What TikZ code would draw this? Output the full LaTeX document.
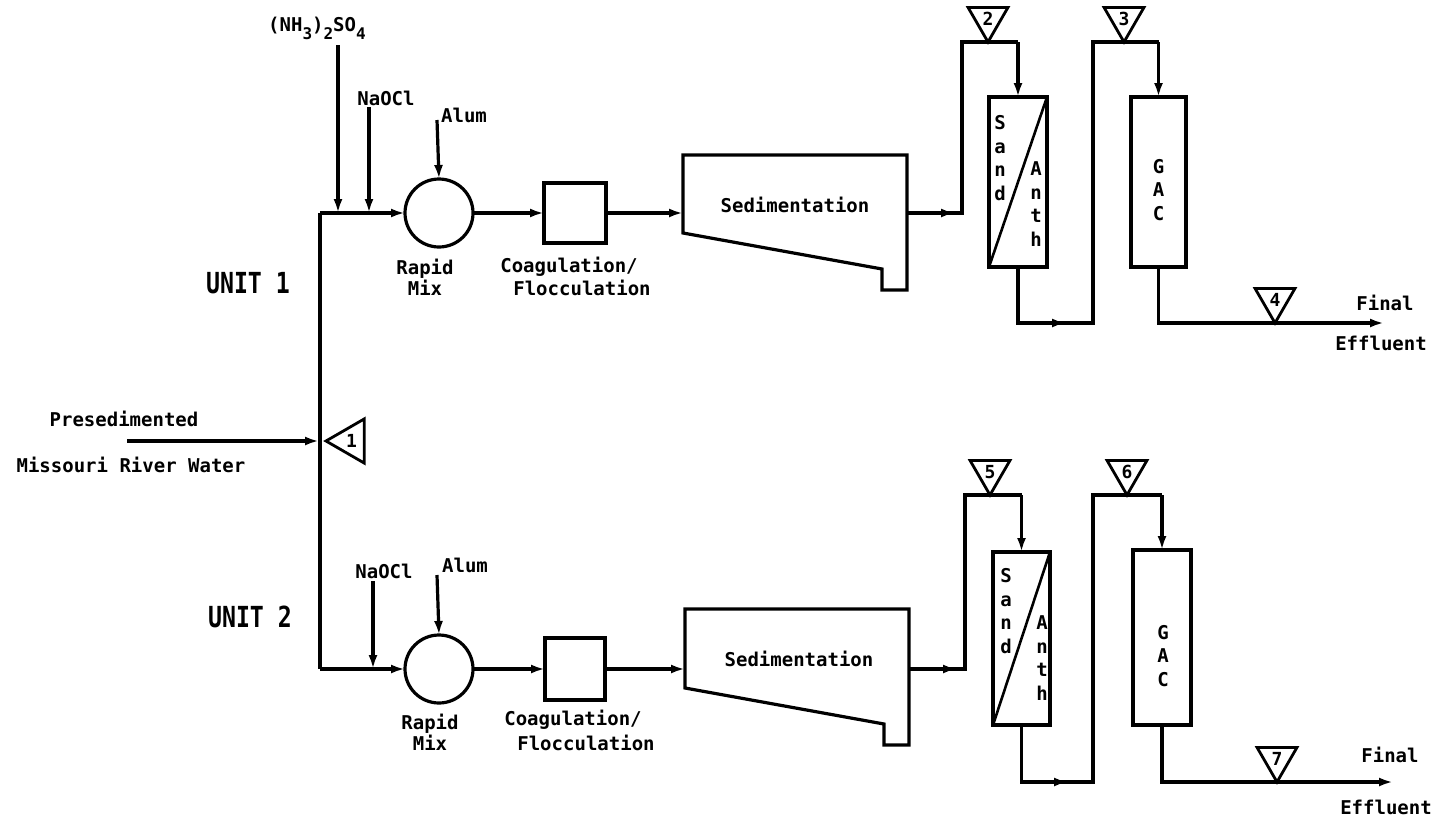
\documentclass[tikz,border=0pt]{standalone}
\usepackage{fontspec}
\newfontfamily\dmono{DejaVu Sans Mono}
\usetikzlibrary{arrows.meta,shapes.geometric}
\newcommand\lowsub[1]{\raisebox{-8pt}{\fontsize{16}{16}\selectfont #1}}
\begin{document}
\begin{tikzpicture}[x=1pt,y=-1pt,
  pipe/.style={line width=3.2pt},
  arr/.style={pipe,-{Latex[length=14pt,width=9pt]}},
  lbl/.style={font=\dmono\bfseries\fontsize{19}{21}\selectfont, inner sep=0pt},
  stack/.style={lbl, align=center, font=\dmono\bfseries\fontsize{19}{23.5}\selectfont},
  unitlbl/.style={font=\dmono\bfseries\fontsize{29}{29}\selectfont, inner sep=0pt},
  tri/.style={draw, line width=2.8pt, regular polygon, regular polygon sides=3,
    minimum size=46pt, inner sep=0pt, outer sep=0pt, shape border rotate=180,
    font=\dmono\bfseries\fontsize{18}{18}\selectfont},
  vessel/.style={draw, line width=3.2pt, rectangle, inner sep=0pt, outer sep=0pt},
  divider/.style={line width=2.6pt}
]
\useasboundingbox (0,0) rectangle (1437,822);

% ---------------- source and trunk ----------------
\node[lbl] (pres) at (124,419) {Presedimented};
\node[lbl] (miss) at (131,465) {Missouri River Water};
\coordinate (inl) at (127,441);
\coordinate (inr) at (319,441);
\coordinate (j1) at (320,213);
\coordinate (j2) at (320,669);
\draw[pipe, line join=miter] (j1) -- (j2);
\draw[arr] (inl) -- (inr);
\node[tri, minimum size=51pt, shape border rotate=90, anchor=corner 1] (t1) at (326,441) {1};

\node[unitlbl] (u1) at (248,283) {\scalebox{0.8}[1]{UNIT 1}};
\node[unitlbl] (u2) at (250,617) {\scalebox{0.8}[1]{UNIT 2}};

% ---------------- UNIT 1 ----------------
\node[lbl, anchor=base west] (nh3) at (268,31) {(NH\lowsub{3})\lowsub{2}SO\lowsub{4}};
\node[lbl] (naocl1) at (386,98) {NaOCl};
\node[lbl] (alum1) at (464,115) {Alum};
\coordinate (nh3a) at (338,45);
\coordinate (nh3b) at (338,213);
\coordinate (na1a) at (369,107);
\coordinate (na1b) at (369,213);
\coordinate (al1a) at (437,120);

\node[vessel, circle, minimum size=68pt] (rm1) at (439,213) {};
\node[vessel, minimum width=62pt, minimum height=60pt] (cf1) at (575,213) {};
\node[lbl, align=center] (rmt1) at (425,277) {Rapid\\Mix};
\node[lbl] (cft1a) at (569,267) {Coagulation/};
\node[lbl] (cft1b) at (582,288) {Flocculation};

\draw[arr] (nh3a) -- (nh3b);
\draw[arr] (na1a) -- (na1b);
\draw[arr] (al1a) -- (rm1.north);
\draw[arr] (j1) -- (rm1.west);
\draw[arr] (rm1.east) -- (cf1.west);

% sedimentation 1
\draw[line width=3.2pt, line join=miter] (683,155) -- (907,155) -- (907,290) -- (882,290) -- (882,269) -- (683,233) -- cycle;
\node[lbl] (sed1) at (795,205) {Sedimentation};
\coordinate (s1in) at (683,213);
\coordinate (s1out) at (907,213);
\coordinate (s1a) at (955,213);
\coordinate (s1b) at (962,213);
\coordinate (s1c) at (962,42);
\coordinate (f1c) at (1018,42);
\draw[arr] (cf1.east) -- (s1in);
\draw[pipe, line join=miter] (s1out) -- (s1b) -- (s1c) -- (f1c);
\draw[arr] (s1out) -- (s1a);

% filter 1
\node[vessel, minimum width=58pt, minimum height=170pt] (f1) at (1018,182) {};
\draw[divider] (f1.south west) -- (f1.north east);
\node[stack] (sand1) at (1000,158) {S\\a\\n\\d};
\node[stack] (anth1) at (1036,204) {A\\n\\t\\h};
\draw[arr] (f1c) -- (f1.north);
\node[tri, anchor=corner 1] (t2) at (988,42) {2};

\coordinate (f1d) at (1018,323);
\coordinate (f1e) at (1066,323);
\coordinate (f1f) at (1093,323);
\coordinate (f1g) at (1093,42);
\coordinate (g1c) at (1158.5,42);
\draw[pipe, line join=miter] (f1.south) -- (f1d) -- (f1f) -- (f1g) -- (g1c);
\draw[arr] (f1d) -- (f1e);

% GAC 1
\node[vessel, minimum width=55pt, minimum height=170pt] (g1) at (1158.5,182) {};
\node[stack] (gac1) at (1158.5,190) {G\\A\\C};
\draw[arr] (g1c) -- (g1.north);
\node[tri, anchor=corner 1] (t3) at (1124,42) {3};

\coordinate (g1d) at (1158.5,323);
\coordinate (out1) at (1384,323);
\draw[arr, line join=miter] (g1.south) -- (g1d) -- (out1);
\node[tri, anchor=corner 1] (t4) at (1275,323) {4};
\node[lbl] (fin1) at (1385,303) {Final};
\node[lbl] (eff1) at (1381,343) {Effluent};

% ---------------- UNIT 2 ----------------
\node[lbl] (naocl2) at (384,571) {NaOCl};
\node[lbl] (alum2) at (465,565) {Alum};
\coordinate (na2a) at (373,581);
\coordinate (na2b) at (373,669);
\coordinate (al2a) at (437,575);

\node[vessel, circle, minimum size=68pt] (rm2) at (439,669) {};
\node[vessel, minimum width=60pt, minimum height=62pt] (cf2) at (575,669) {};
\node[lbl, align=center] (rmt2) at (430,732) {Rapid\\Mix};
\node[lbl] (cft2a) at (573,720) {Coagulation/};
\node[lbl] (cft2b) at (586,743) {Flocculation};

\draw[arr] (na2a) -- (na2b);
\draw[arr] (al2a) -- (rm2.north);
\draw[arr] (j2) -- (rm2.west);
\draw[arr] (rm2.east) -- (cf2.west);

% sedimentation 2
\draw[line width=3.2pt, line join=miter] (685,609) -- (909,609) -- (909,745) -- (884,745) -- (884,724) -- (685,688) -- cycle;
\node[lbl] (sed2) at (799,659) {Sedimentation};
\coordinate (s2in) at (685,669);
\coordinate (s2out) at (909,669);
\coordinate (s2a) at (957,669);
\coordinate (s2b) at (965,669);
\coordinate (s2c) at (965,495);
\coordinate (f2c) at (1021.5,495);
\draw[arr] (cf2.east) -- (s2in);
\draw[pipe, line join=miter] (s2out) -- (s2b) -- (s2c) -- (f2c);
\draw[arr] (s2out) -- (s2a);

% filter 2
\node[vessel, minimum width=57pt, minimum height=173pt] (f2) at (1021.5,638.5) {};
\draw[divider] (f2.south west) -- (f2.north east);
\node[stack] (sand2) at (1006,611) {S\\a\\n\\d};
\node[stack] (anth2) at (1042,658) {A\\n\\t\\h};
\draw[arr] (f2c) -- (f2.north);
\node[tri, anchor=corner 1] (t5) at (990,495) {5};

\coordinate (f2d) at (1021.5,782);
\coordinate (f2e) at (1068,782);
\coordinate (f2f) at (1093,782);
\coordinate (f2g) at (1093,495);
\coordinate (g2c) at (1162,495);
\draw[pipe, line join=miter] (f2.south) -- (f2d) -- (f2f) -- (f2g) -- (g2c);
\draw[arr] (f2d) -- (f2e);

% GAC 2
\node[vessel, minimum width=58pt, minimum height=175pt] (g2) at (1162,637.5) {};
\node[stack] (gac2) at (1163,656) {G\\A\\C};
\draw[arr] (g2c) -- (g2.north);
\node[tri, anchor=corner 1] (t6) at (1127,495) {6};

\coordinate (g2d) at (1162,782);
\coordinate (out2) at (1393,782);
\draw[arr, line join=miter] (g2.south) -- (g2d) -- (out2);
\node[tri, anchor=corner 1] (t7) at (1277,782) {7};
\node[lbl] (fin2) at (1390,755) {Final};
\node[lbl] (eff2) at (1386,807) {Effluent};
\end{tikzpicture}
\end{document}
